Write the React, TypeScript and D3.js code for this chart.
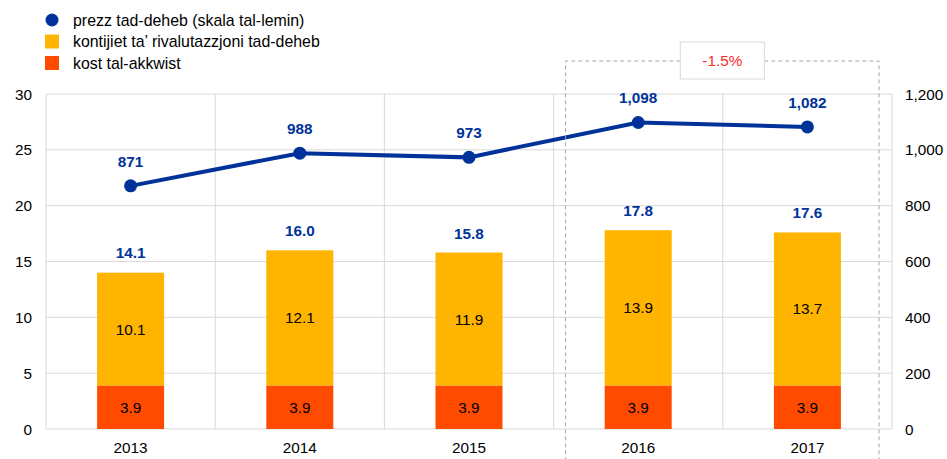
import React from 'react'
import * as d3 from 'd3'

const years = ['2013', '2014', '2015', '2016', '2017']
const acquisitionCost = [3.9, 3.9, 3.9, 3.9, 3.9]
const revaluation = [10.1, 12.1, 11.9, 13.9, 13.7]
const totals = [14.1, 16.0, 15.8, 17.8, 17.6]
const goldPrice = [871, 988, 973, 1098, 1082]
const leftTicks = [0, 5, 10, 15, 20, 25, 30]
const rightTicks = [0, 200, 400, 600, 800, 1000, 1200]
const legendItems = [
  { label: 'prezz tad-deheb (skala tal-lemin)', kind: 'circle', color: '#003299' },
  { label: 'kontijiet ta\u2019 rivalutazzjoni tad-deheb', kind: 'rect', color: '#FFB400' },
  { label: 'kost tal-akkwist', kind: 'rect', color: '#FF4B00' },
]
const changeLabel = '-1.5%'

const W = 947
const H = 459
const font = 'Liberation Sans, Arial, sans-serif'
const fs = 15.3

export default function App() {
  const left = 46
  const right = 892
  const top = 94
  const bottom = 429

  const x = d3.scaleBand().domain(years).range([left, right])
  const y = d3.scaleLinear().domain([0, 30]).range([bottom, top])
  const y2 = d3.scaleLinear().domain([0, 1200]).range([bottom, top])
  const barW = 67
  const cx = (d: string) => (x(d) as number) + x.bandwidth() / 2

  const line = d3
    .line<number>()
    .x((_, i) => cx(years[i]))
    .y(d => y2(d))

  const boxL = (x('2016') as number) + 12
  const boxR = (x('2017') as number) + x.bandwidth() - 13
  const boxMid = (boxL + boxR) / 2

  return (
    <svg width={W} height={H} style={{ position: 'absolute', left: 0, top: 0 }} fontFamily={font}>
      <rect width={W} height={H} fill="#fff" />
      {/* legend */}
      {legendItems.map((it, i) => (
        <g key={it.label} transform={`translate(0,${20 + i * 21.5})`}>
          {it.kind === 'circle' ? (
            <circle cx={52} cy={0} r={6.5} fill={it.color} />
          ) : (
            <rect x={45} y={-7} width={14} height={14} fill={it.color} />
          )}
          <text x={73} y={5.5} fontSize={15.9} fill="#000">
            {it.label}
          </text>
        </g>
      ))}

      {/* grid */}
      {leftTicks.map(t => (
        <line key={t} x1={left} x2={right} y1={y(t)} y2={y(t)} stroke="#d9d9d9" strokeWidth={1} />
      ))}
      {years.map(yr => (
        <line key={yr} x1={x(yr)} x2={x(yr)} y1={top} y2={bottom} stroke="#d9d9d9" strokeWidth={1} />
      ))}
      <line x1={right} x2={right} y1={top} y2={bottom} stroke="#d9d9d9" />

      {/* bars */}
      {years.map((yr, i) => (
        <g key={yr}>
          <rect x={cx(yr) - barW / 2} y={y(acquisitionCost[i])} width={barW} height={y(0) - y(acquisitionCost[i])} fill="#FF4B00" />
          <rect
            x={cx(yr) - barW / 2}
            y={y(acquisitionCost[i] + revaluation[i])}
            width={barW}
            height={y(acquisitionCost[i]) - y(acquisitionCost[i] + revaluation[i])}
            fill="#FFB400"
          />
          <text x={cx(yr)} y={(y(0) + y(acquisitionCost[i])) / 2 + 5.5} fontSize={fs} textAnchor="middle" fill="#000">
            {acquisitionCost[i].toFixed(1)}
          </text>
          <text
            x={cx(yr)}
            y={(y(acquisitionCost[i]) + y(acquisitionCost[i] + revaluation[i])) / 2 + 5.5}
            fontSize={fs}
            textAnchor="middle"
            fill="#000"
          >
            {revaluation[i].toFixed(1)}
          </text>
          <text x={cx(yr)} y={y(totals[i]) - 14} fontSize={fs} fontWeight="bold" textAnchor="middle" fill="#003299">
            {totals[i].toFixed(1)}
          </text>
        </g>
      ))}

      {/* line */}
      <path d={line(goldPrice) || ''} fill="none" stroke="#003299" strokeWidth={4} />
      {goldPrice.map((v, i) => (
        <g key={i}>
          <circle cx={cx(years[i])} cy={y2(v)} r={6.5} fill="#003299" />
          <text x={cx(years[i])} y={y2(v) - 19} fontSize={fs} fontWeight="bold" textAnchor="middle" fill="#003299">
            {d3.format(',')(v)}
          </text>
        </g>
      ))}

      {/* axes labels */}
      {leftTicks.map(t => (
        <text key={t} x={32} y={y(t) + 5.5} fontSize={fs} textAnchor="end" fill="#000">
          {t}
        </text>
      ))}
      {rightTicks.map(t => (
        <text key={t} x={905} y={y2(t) + 5.5} fontSize={fs} textAnchor="start" fill="#000">
          {d3.format(',')(t)}
        </text>
      ))}
      {years.map(yr => (
        <text key={yr} x={cx(yr)} y={453} fontSize={fs} textAnchor="middle" fill="#000">
          {yr}
        </text>
      ))}

      {/* highlight box */}
      <path
        d={`M${boxMid - 42},61 H${boxL} V${H} M${boxMid + 42},61 H${boxR} V${H}`}
        fill="none"
        stroke="#a6a6a6"
        strokeDasharray="4,3"
      />
      <rect x={boxMid - 42} y={42} width={84} height={37} fill="#fff" stroke="#d9d9d9" />
      <text x={boxMid} y={66} fontSize={fs} textAnchor="middle" fill="#ff2a2a">
        {changeLabel}
      </text>
    </svg>
  )
}
